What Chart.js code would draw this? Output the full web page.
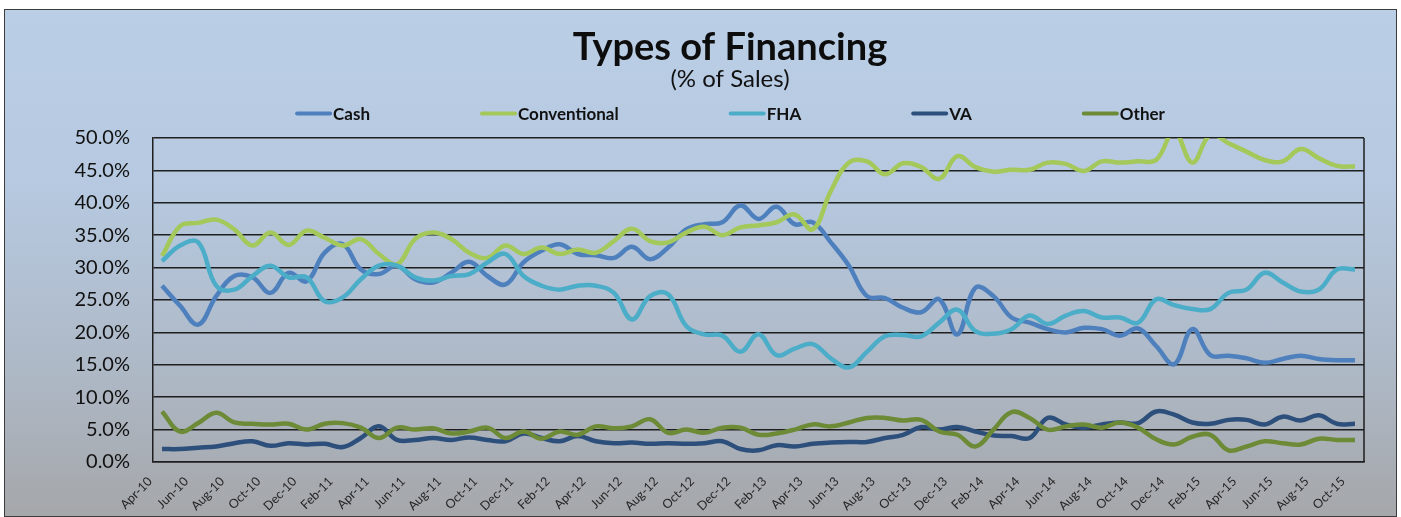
<!DOCTYPE html>
<html lang="en">
<head>
<meta charset="UTF-8">
<title>Types of Financing</title>
<script src="https://cdn.jsdelivr.net/npm/chart.js"></script>
<style>
  body { margin: 0; background: #ffffff; }
  .chart-box {
    position: absolute; left: 4px; top: 9px; width: 1393px; height: 508px;
    box-sizing: border-box; border: 1px solid #3c3c3c;
    background: linear-gradient(to bottom, #bacee6 0%, #b6c9e0 35%, #aeb9c7 70%, #a5a7aa 100%);
  }
  #financingChart { display: block; }
</style>
</head>
<body>
<div class="chart-box">
  <canvas id="financingChart" width="1391" height="506"></canvas>
</div>
<script>
// months Apr-10 .. Oct-15
const months = [
  'Apr-10','May-10','Jun-10','Jul-10','Aug-10','Sep-10','Oct-10','Nov-10','Dec-10',
  'Jan-11','Feb-11','Mar-11','Apr-11','May-11','Jun-11','Jul-11','Aug-11','Sep-11','Oct-11','Nov-11','Dec-11',
  'Jan-12','Feb-12','Mar-12','Apr-12','May-12','Jun-12','Jul-12','Aug-12','Sep-12','Oct-12','Nov-12','Dec-12',
  'Jan-13','Feb-13','Mar-13','Apr-13','May-13','Jun-13','Jul-13','Aug-13','Sep-13','Oct-13','Nov-13','Dec-13',
  'Jan-14','Feb-14','Mar-14','Apr-14','May-14','Jun-14','Jul-14','Aug-14','Sep-14','Oct-14','Nov-14','Dec-14',
  'Jan-15','Feb-15','Mar-15','Apr-15','May-15','Jun-15','Jul-15','Aug-15','Sep-15','Oct-15'
];

const cash = [
  27.2, 24.1, 21.2, 25.6, 28.7, 28.5, 26.1, 29.2, 27.9,
  32.3, 33.6, 29.7, 29.0, 30.3, 28.2, 27.7, 29.2, 30.9, 28.7, 27.4, 30.8,
  32.6, 33.6, 32.1, 31.9, 31.5, 33.2, 31.3, 33.1, 35.9, 36.7, 37.0, 39.6,
  37.5, 39.4, 36.7, 37.0, 33.9, 30.3, 25.6, 25.3, 23.8, 23.1, 25.1, 19.7,
  26.9, 25.6, 22.3, 21.5, 20.5, 20.0, 20.7, 20.5, 19.5, 20.6, 17.9, 15.1,
  20.5, 16.5, 16.4, 16.0, 15.3, 15.9, 16.4, 15.9, 15.7, 15.7
];

const conventional = [
  31.8, 36.4, 36.9, 37.4, 35.9, 33.4, 35.4, 33.5, 35.7,
  34.6, 33.4, 34.4, 32.1, 30.5, 34.4, 35.4, 34.4, 32.3, 31.5, 33.4, 32.1,
  33.1, 32.1, 32.8, 32.3, 34.1, 36.0, 34.1, 33.9, 35.4, 36.3, 35.0, 36.2,
  36.5, 37.0, 38.2, 35.9, 41.8, 46.2, 46.4, 44.4, 46.1, 45.5, 43.7, 47.2,
  45.5, 44.8, 45.1, 45.1, 46.2, 46.0, 44.9, 46.4, 46.2, 46.4, 46.6, 51.0,
  46.2, 50.5, 49.2, 47.9, 46.6, 46.4, 48.3, 46.9, 45.7, 45.6
];

const fha = [
  31.0, 33.4, 33.9, 27.2, 26.6, 28.7, 30.3, 28.5, 28.5,
  24.8, 25.4, 28.2, 30.3, 30.3, 28.5, 28.0, 28.7, 29.0, 30.8, 32.1, 28.7,
  27.2, 26.6, 27.2, 27.2, 26.1, 22.0, 25.6, 25.9, 21.0, 19.7, 19.5, 17.0,
  19.7, 16.5, 17.5, 18.2, 16.0, 14.6, 17.0, 19.4, 19.6, 19.4, 21.5, 23.5,
  20.2, 19.8, 20.5, 22.6, 21.3, 22.6, 23.3, 22.3, 22.3, 21.5, 25.1, 24.2,
  23.6, 23.6, 26.1, 26.6, 29.2, 27.7, 26.3, 26.6, 29.7, 29.7
];

const va = [
  2.0, 2.0, 2.2, 2.4, 2.9, 3.2, 2.5, 2.9, 2.7,
  2.8, 2.3, 3.7, 5.5, 3.4, 3.4, 3.7, 3.4, 3.8, 3.4, 3.2, 4.4,
  3.7, 3.2, 4.0, 3.2, 2.9, 3.0, 2.8, 2.9, 2.8, 2.9, 3.2, 2.0,
  1.8, 2.6, 2.4, 2.8, 3.0, 3.1, 3.1, 3.7, 4.2, 5.4, 5.0, 5.4,
  4.7, 4.1, 4.0, 3.7, 6.8, 5.8, 5.3, 5.8, 6.1, 6.0, 7.8, 7.3,
  6.1, 5.9, 6.5, 6.5, 5.8, 7.0, 6.4, 7.2, 5.9, 5.9
];

const other = [
  7.8, 4.7, 6.0, 7.6, 6.1, 5.9, 5.8, 5.9, 5.0,
  5.9, 6.0, 5.3, 3.7, 5.3, 5.0, 5.2, 4.4, 4.7, 5.3, 3.7, 4.7,
  3.6, 4.7, 4.2, 5.5, 5.2, 5.5, 6.6, 4.5, 5.0, 4.5, 5.3, 5.3,
  4.2, 4.4, 5.0, 5.8, 5.5, 6.1, 6.8, 6.8, 6.4, 6.5, 4.7, 4.2,
  2.4, 5.0, 7.7, 6.8, 5.0, 5.5, 5.8, 5.3, 6.1, 5.3, 3.5, 2.7,
  3.9, 4.2, 1.8, 2.4, 3.2, 2.9, 2.7, 3.6, 3.4, 3.4
];

const yTicks = [0, 5, 10, 15, 20, 25, 30, 35, 40, 45, 50];

const titleText = 'Types of Financing';
const subtitleText = '(% of Sales)';

const FONT = 'Lato, "Open Sans", sans-serif';
const GRID = '#1e1e1e';

// title block, Excel-style spread legend and the right frame line
const headerAndFrame = {
  id: 'headerAndFrame',
  afterDraw(chart) {
    const ctx = chart.ctx;
    const area = chart.chartArea;
    const cx = 725;
    ctx.save();
    ctx.strokeStyle = GRID;
    ctx.lineWidth = 1.5;
    ctx.beginPath();
    ctx.moveTo(area.right, area.top);
    ctx.lineTo(area.right, area.bottom);
    ctx.stroke();

    ctx.textAlign = 'center';
    ctx.textBaseline = 'alphabetic';
    ctx.fillStyle = '#0d0d0d';
    ctx.font = 'bold 38px ' + FONT;
    ctx.fillText(titleText, cx, 50);
    ctx.fillStyle = '#111111';
    ctx.font = '24px ' + FONT;
    ctx.fillText(subtitleText, cx, 77);

    ctx.textAlign = 'left';
    ctx.font = 'bold 17px ' + FONT;
    const lineLen = 37, gap = 110;
    const items = chart.data.datasets.map(ds => ({
      label: ds.label,
      color: ds.borderColor,
      w: lineLen + 1 + ctx.measureText(ds.label).width
    }));
    const total = items.reduce((s, it) => s + it.w, 0) + gap * (items.length - 1);
    let x = cx - total / 2;
    const y = area.top - 24.5;
    ctx.fillStyle = '#111111';
    items.forEach(it => {
      ctx.strokeStyle = it.color;
      ctx.lineWidth = 4;
      ctx.lineCap = 'round';
      ctx.beginPath();
      ctx.moveTo(x + 2, y);
      ctx.lineTo(x + lineLen - 2, y);
      ctx.stroke();
      ctx.fillText(it.label, x + lineLen + 1, y + 6.5);
      x += it.w + gap;
    });
    ctx.restore();
  }
};

function series(label, data, color, order) {
  return {
    label: label,
    data: data,
    borderColor: color,
    backgroundColor: color,
    borderWidth: 4.5,
    pointRadius: 0,
    tension: 0.4,
    fill: false,
    order: order
  };
}

new Chart(document.getElementById('financingChart'), {
  type: 'line',
  data: {
    labels: months,
    datasets: [
      series('Cash', cash, '#4e80be', 5),
      series('Conventional', conventional, '#a4c85a', 4),
      series('FHA', fha, '#4badc8', 3),
      series('VA', va, '#2d4f7c', 2),
      series('Other', other, '#6d8b37', 1)
    ]
  },
  options: {
    responsive: false,
    animation: false,
    layout: { padding: { left: 0, right: 32, top: 128, bottom: 0 } },
    plugins: {
      legend: { display: false },
      tooltip: { enabled: false },
      title: { display: false }
    },
    scales: {
      x: {
        offset: true,
        grid: { display: false },
        border: { display: true, color: GRID, width: 1.5 },
        ticks: {
          autoSkip: false,
          maxRotation: 45,
          minRotation: 45,
          padding: 4,
          labelOffset: -12,
          color: '#262626',
          font: { family: FONT, size: 12.5 },
          callback: function (v, i) { return i % 2 === 0 ? months[i] : ''; }
        },
        afterFit(scale) { scale.height = 54; }
      },
      y: {
        min: 0,
        max: 50,
        afterBuildTicks(scale) { scale.ticks = yTicks.map(v => ({ value: v })); },
        grid: { color: GRID, lineWidth: 1.5, drawTicks: false },
        border: { display: true, color: GRID, width: 1.5 },
        ticks: {
          padding: 23,
          color: '#111111',
          font: { family: FONT, size: 20 },
          callback: v => v.toFixed(1) + '%'
        },
        afterFit(scale) { scale.width = 148; }
      }
    }
  },
  plugins: [headerAndFrame]
});
</script>
</body>
</html>
